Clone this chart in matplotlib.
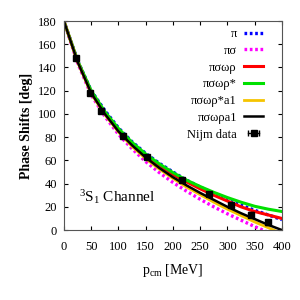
import matplotlib

matplotlib.use("Agg")
import matplotlib.pyplot as plt
from matplotlib.lines import Line2D
from matplotlib.legend_handler import HandlerLine2D

plt.rcParams["font.family"] = ["Liberation Serif", "DejaVu Serif"]
plt.rcParams["mathtext.fontset"] = "custom"
plt.rcParams["mathtext.rm"] = "Liberation Serif"
plt.rcParams["mathtext.it"] = "Liberation Serif:italic"

# momentum grid for model curves [MeV]
p_grid = [0, 25, 50, 75, 100, 125, 150, 175, 200, 225, 250, 275, 300, 325, 350, 375, 400]

pi_only = [180, 146, 120, 103, 88, 76, 66, 57.5, 50, 43, 37, 31.5, 26.5, 21.5, 17, 13, 9]
pi_sigma = [180, 144, 116.5, 98, 82.5, 70, 59, 49.5, 41, 33.5, 26.5, 20, 14, 8.5, 3, -2, -7]
pi_sigma_omega_rho = [180, 145.5, 119, 101.5, 86.5, 74.5, 64.5, 56, 48, 41.5, 35.5, 30, 25, 20, 16, 13, 10]
pi_sigma_omega_rho_star = [180, 146, 120, 102, 87.5, 75.5, 65.5, 57, 49.5, 43, 37.5, 32.5, 28, 24, 20.5, 18, 16]
pi_sigma_omega_rho_star_a1 = [180, 145, 117.5, 99.5, 84.5, 72, 61.5, 52.5, 44.5, 37, 30.5, 24, 18, 12.5, 7, 2, -3]
pi_sigma_omega_rho_a1 = [180, 145, 118, 100, 85, 73, 62.5, 53.5, 45.5, 38.5, 32, 26, 20, 14.5, 9.5, 4.5, 0]

# Nijmegen PWA points
nijm_p = [21.7, 48.4, 68.5, 108.3, 153.2, 216.6, 265.3, 306.3, 342.5, 375.2]
nijm_delta = [147.75, 118.18, 102.61, 80.63, 62.77, 43.23, 30.72, 21.22, 13.39, 6.60]
nijm_err = [0.6, 0.6, 0.6, 0.8, 1.0, 1.2, 1.4, 1.6, 1.8, 2.0]

x_ticks = [0, 50, 100, 150, 200, 250, 300, 350, 400]
y_ticks = [0, 20, 40, 60, 80, 100, 120, 140, 160, 180]

fig = plt.figure(figsize=(3, 3), dpi=100, facecolor="white")
ax = fig.add_axes([0.213, 0.233, 0.727, 0.697])

ax.plot(p_grid, pi_only, color="#0000ff", lw=2.4, ls=(0, (0.8, 0.8)), label="π")
ax.plot(p_grid, pi_sigma, color="#ff00ff", lw=2.4, ls=(0, (0.8, 0.8)), label="πσ")
ax.plot(p_grid, pi_sigma_omega_rho, color="#ff0000", lw=2.2, label="πσωρ")
ax.plot(p_grid, pi_sigma_omega_rho_star, color="#00e000", lw=2.2, label="πσωρ*")
ax.plot(p_grid, pi_sigma_omega_rho_star_a1, color="#f5c400", lw=2.0, label="πσωρ*a1")
ax.plot(p_grid, pi_sigma_omega_rho_a1, color="black", lw=1.8, label="πσωρa1")
ax.errorbar(nijm_p, nijm_delta, yerr=nijm_err, fmt="s", color="black", ms=4,
            elinewidth=1, capsize=2, lw=1)

ax.set_xlim(0, 400)
ax.set_ylim(0, 180)
ax.set_xticks(x_ticks)
ax.set_yticks(y_ticks)
ax.tick_params(direction="in", top=True, right=True, labelsize=9, length=3)
ax.tick_params(axis="x", pad=8)
ax.tick_params(axis="y", pad=5)
for s in ax.spines.values():
    s.set_color("#555555")

ax.set_xlabel("p$_{\\rm cm}$ [MeV]", fontsize=10, labelpad=6)
ax.set_ylabel("Phase Shifts [deg]", fontsize=10, fontweight="bold")
ax.text(0.07, 0.135, "$^3$S$_1$ Channel", transform=ax.transAxes, fontsize=11)

# gnuplot-style key entry for the data: horizontal bar with caps and a square
nijm_caps = Line2D([], [], color="black", lw=1, marker="|", ms=5, mew=1)
nijm_sq = Line2D([], [], color="black", lw=0, marker="s", ms=4)
handles, labels = ax.get_legend_handles_labels()
handles.append((nijm_caps, nijm_sq))
labels.append("Nijm data")

leg = ax.legend(handles, labels, loc="upper right", frameon=False, markerfirst=False,
                fontsize=9, handlelength=1.5, labelspacing=0.38, handletextpad=0.6,
                bbox_to_anchor=(0.965, 1.02),
                handler_map={nijm_caps: HandlerLine2D(numpoints=2),
                             nijm_sq: HandlerLine2D(numpoints=1)})

fig.savefig("out.png", dpi=100, facecolor=fig.get_facecolor())
plt.close(fig)
